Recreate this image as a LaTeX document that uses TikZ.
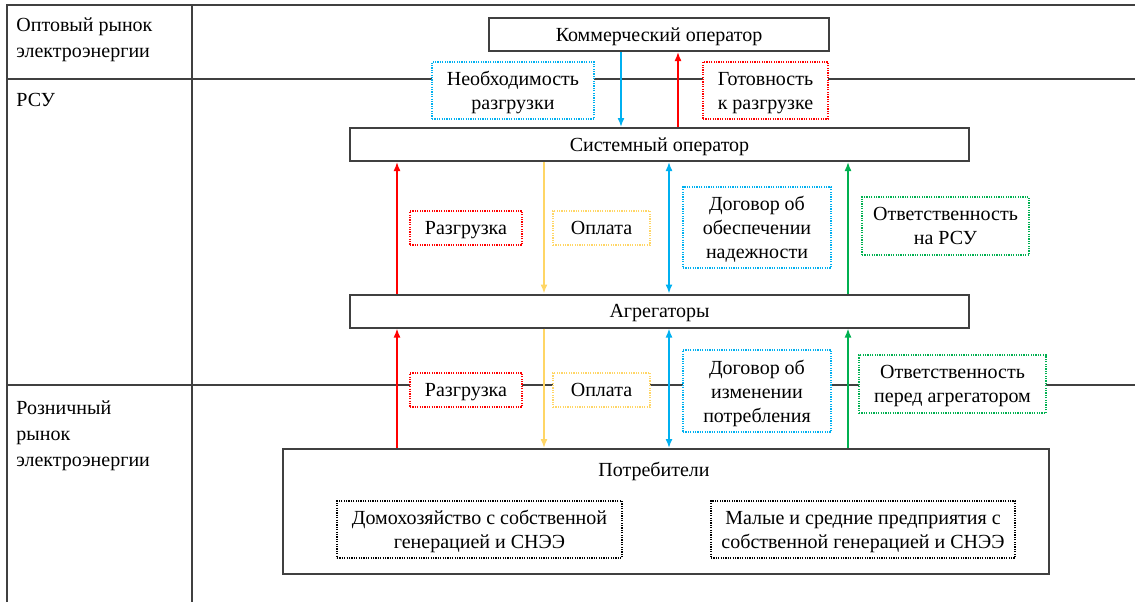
\documentclass[tikz,border=0pt]{standalone}
\usepackage{fontspec}
\setmainfont{Liberation Serif}
\newfontfamily\timesfont{Liberation Serif}
\usetikzlibrary{arrows.meta,positioning}
\definecolor{cblue}{RGB}{0,176,240}
\definecolor{cred}{RGB}{255,0,0}
\definecolor{cyel}{RGB}{255,214,102}
\definecolor{cgrn}{RGB}{0,176,80}
\definecolor{cgrid}{RGB}{64,64,64}

\begin{document}
\begin{tikzpicture}[
    x=0.5pt, y=-0.5pt,
    font=\timesfont\fontsize{10}{12}\selectfont,
    >={Latex[length=4.5pt,width=3.5pt]},
    grid/.style={draw=cgrid, line width=1pt},
    actor/.style={rectangle, draw=cgrid, line width=1pt, fill=white, inner sep=0pt, text depth=0pt, minimum height=16.5pt},
    note/.style={rectangle, draw=#1, dash pattern=on 0.6pt off 0.6pt, line width=0.6pt, fill=white, inner sep=0pt, text depth=0pt, align=center, minimum height=17pt},
    sub/.style={note=black, minimum height=28.5pt},
    side/.style={anchor=north west, align=left, inner sep=0pt, font=\timesfont\fontsize{10}{13}\selectfont},
    flow/.style={line width=0.8pt}
]
    \useasboundingbox (0,0) rectangle (1135,602);

    % Table
    \draw[grid] (7,602) -- (7,5) -- (1135,5);
    \draw[grid] (192,5) -- (192,602);
    \draw[grid] (7,79) -- (1135,79);
    \draw[grid] (7,385) -- (1135,385);

    \node[side] (opt) at (16,17) {Оптовый рынок\\электроэнергии};
    \node[side] (rsu) at (16,93) {РСУ};
    \node[side] (rozn) at (16,400) {Розничный\\рынок\\электроэнергии};

    % Participants
    \node[actor, minimum width=170pt] (ko) at (659,34.5) {Коммерческий оператор};
    \node[actor, minimum width=309.5pt] (so) at (659.5,144.5) {Системный оператор};
    \node[actor, minimum width=309.5pt] (agg) at (659.5,311) {Агрегаторы};
    \node[actor, minimum width=383pt, minimum height=62.5pt] (potr) at (666,511.5) {};
    \node[text depth=0pt] (potrt) at (654,469) {Потребители};
    \node[sub, minimum width=142.5pt] (dom) at (479.5,529.5) {Домохозяйство с собственной\\генерацией и СНЭЭ};
    \node[sub, minimum width=152pt] (maly) at (863,529.5) {Малые и средние предприятия с\\собственной генерацией и СНЭЭ};

    % Labels
    \node[note=cblue, minimum width=81pt, minimum height=28.5pt] (need) at (513,90.5) {Необходимость\\разгрузки};
    \node[note=cred, minimum width=62.5pt, minimum height=28.5pt] (ready) at (765.5,90.5) {Готовность\\к разгрузке};

    \node[note=cred, minimum width=56pt] (razg1) at (466,228) {Разгрузка};
    \node[note=cyel, minimum width=48.5pt] (opl1) at (601.5,228) {Оплата};
    \node[note=cblue, minimum width=74pt, minimum height=40.5pt] (dog1) at (757,227.5) {Договор об\\обеспечении\\надежности};
    \node[note=cgrn, minimum width=83.5pt, minimum height=29pt] (otv1) at (945.5,226) {Ответственность\\на РСУ};

    \node[note=cred, minimum width=56pt] (razg2) at (466,390) {Разгрузка};
    \node[note=cyel, minimum width=48.5pt] (opl2) at (601.5,390) {Оплата};
    \node[note=cblue, minimum width=74pt, minimum height=41pt] (dog2) at (757,391) {Договор об\\изменении\\потребления};
    \node[note=cgrn, minimum width=93.5pt, minimum height=29pt] (otv2) at (952.5,384) {Ответственность\\перед агрегатором};

    % Arrows
    \draw[flow, cblue, ->] (ko.south -| 621,0) -- (so.north -| 621,0);
    \draw[flow, cred, <-] (ko.south -| 678,0) -- (so.north -| 678,0);
    \foreach \x/\c/\a in {397/cred/<-, 544/cyel/->, 669/cblue/<->, 848/cgrn/<-} {
        \draw[flow, color=\c, arrows/.expanded=\a] (so.south -| \x,0) -- (agg.north -| \x,0);
        \draw[flow, color=\c, arrows/.expanded=\a] (agg.south -| \x,0) -- (potr.north -| \x,0);
    }
\end{tikzpicture}
\end{document}
